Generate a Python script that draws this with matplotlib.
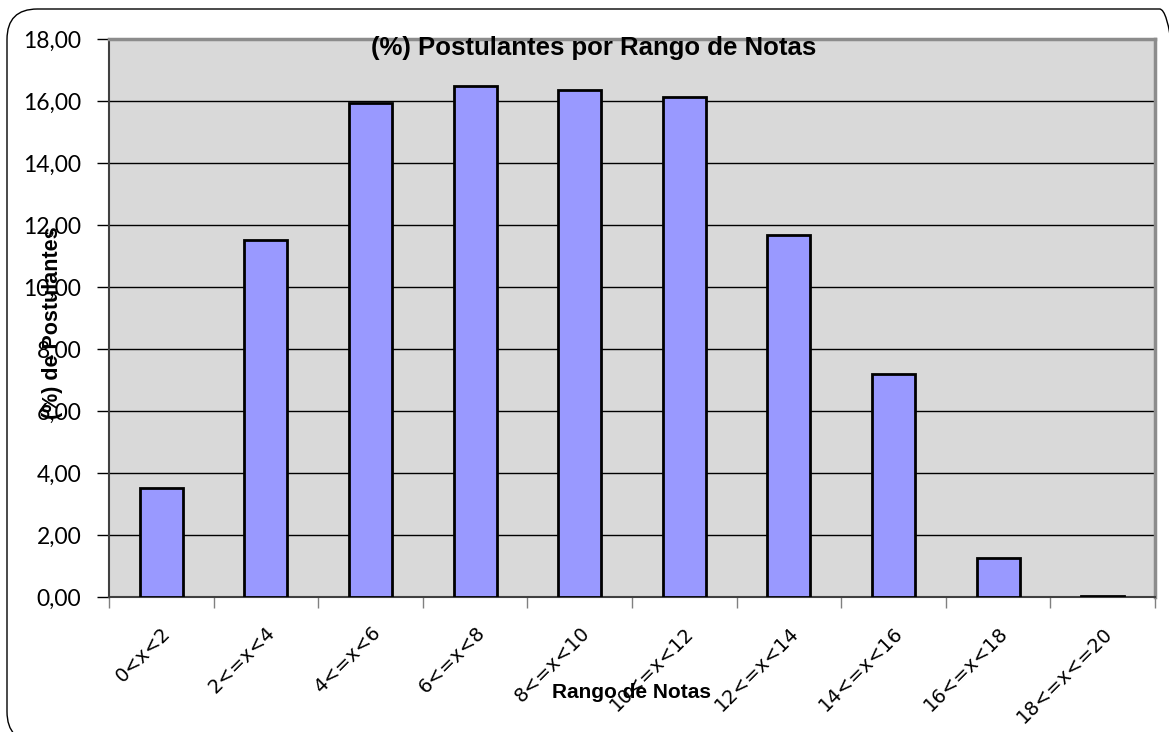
import numpy as np
import matplotlib.pyplot as plt
from matplotlib.patches import FancyBboxPatch
from matplotlib.ticker import FuncFormatter, FixedLocator
from matplotlib.transforms import ScaledTranslation

rangos = ["0<x<2", "2<=x<4", "4<=x<6", "6<=x<8", "8<=x<10",
          "10<=x<12", "12<=x<14", "14<=x<16", "16<=x<18", "18<=x<=20"]
porcentajes = [3.51, 11.52, 15.94, 16.47, 16.36, 16.13, 11.68, 7.19, 1.26, 0.03]

W, H = 1169, 732
fig = plt.figure(figsize=(W / 100, H / 100), dpi=100)

# plot area in pixel coords -> figure fractions
left, right, top, bottom = 109, 1155, 39, 597
ax = fig.add_axes([left / W, 1 - bottom / H, (right - left) / W, (bottom - top) / H])
ax.set_facecolor("#d9d9d9")

x = np.arange(len(rangos))
ax.bar(x, porcentajes, width=0.41, color="#9999ff", edgecolor="black", linewidth=2, zorder=3)

ax.set_xlim(-0.5, len(rangos) - 0.5)
ax.set_ylim(0, 18)
ax.set_yticks(np.arange(0, 19, 2))
ax.yaxis.set_major_formatter(FuncFormatter(lambda v, p: f"{v:.2f}".replace(".", ",")))
ax.grid(axis="y", color="black", linewidth=1, zorder=1)

# ticks between categories, labels centred on bars
ax.xaxis.set_major_locator(FixedLocator(np.arange(-0.5, len(rangos), 1)))
ax.set_xticklabels([])
ax.xaxis.set_minor_locator(FixedLocator(x))
ax.set_xticklabels(rangos, minor=True, rotation=45, ha="right", rotation_mode="anchor",
                   fontsize=14, family="DejaVu Sans")
shift = ScaledTranslation(-5 / 100, 0, fig.dpi_scale_trans)
for lab in ax.get_xticklabels(minor=True):
    lab.set_transform(lab.get_transform() + shift)
ax.tick_params(axis="x", which="minor", length=0, pad=19)
ax.tick_params(axis="x", which="major", length=8, width=1, color="#808080", direction="out")
ax.tick_params(axis="y", length=9, width=1, labelsize=16.5, pad=11)
for lab in ax.get_yticklabels():
    lab.set_family("Lato")

for side in ["top", "right"]:
    ax.spines[side].set_color("#8c8c8c")
    ax.spines[side].set_linewidth(2.5)
ax.spines["left"].set_color("#404040")
ax.spines["left"].set_linewidth(1.5)
ax.spines["bottom"].set_color("#404040")
ax.spines["bottom"].set_linewidth(1.5)

fig.text(594 / W, 1 - 48 / H, "(%) Postulantes por Rango de Notas", ha="center", va="center",
         fontsize=18.5, fontweight="bold", family="Liberation Sans")
fig.text(53 / W, 1 - 323 / H, "(%) de Postulantes", rotation=90, ha="center", va="center",
         fontsize=15.5, fontweight="bold", family="Liberation Sans")
fig.text(632 / W, 1 - 693 / H, "Rango de Notas", ha="center", va="center",
         fontsize=15, fontweight="bold", family="Liberation Sans")

# rounded chart border, partly running off the right and bottom edges
border = FancyBboxPatch((7 / W, 1 - 742 / H), 1183 / W, 733 / H,
                        boxstyle="round,pad=0,rounding_size=0.026", transform=fig.transFigure,
                        facecolor="none", edgecolor="black", linewidth=1, mutation_aspect=W / H)
fig.patches.append(border)

fig.savefig("out.png", dpi=100)
